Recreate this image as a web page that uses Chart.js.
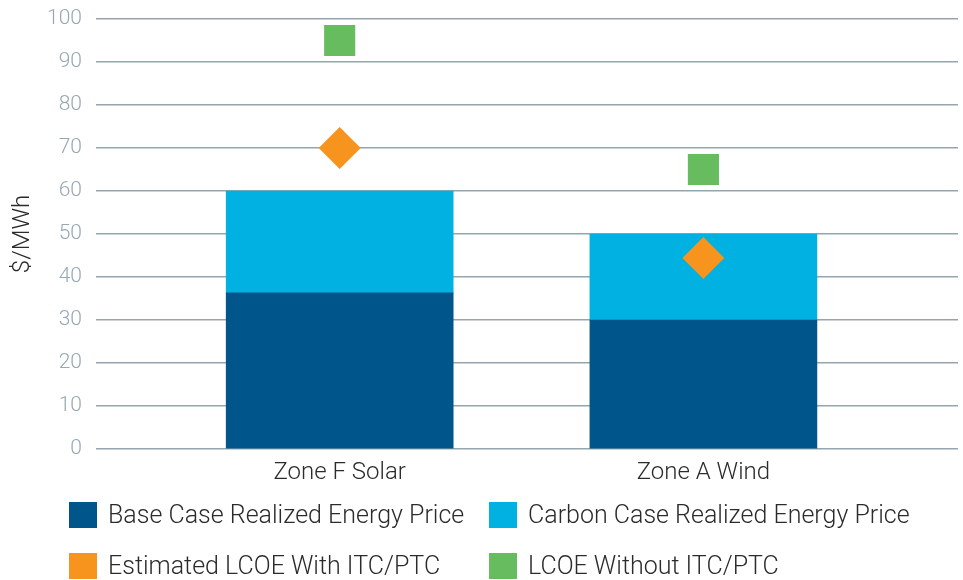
<!DOCTYPE html>
<html>
<head>
<meta charset="utf-8">
<script src="https://cdn.jsdelivr.net/npm/chart.js@4"></script>
<style>
    body { margin: 0; background: #fff; font-family: Roboto, sans-serif; }
    #wrap { position: relative; width: 963px; height: 580px; }
    .legend-item { position: absolute; display: flex; align-items: center; font-size: 25px; font-weight: 300; color: #2b2b2b; white-space: nowrap; line-height: 26px; }
    .legend-item span.box { display: inline-block; width: 28px; height: 26px; margin-right: 11px; }
</style>
</head>
<body>
<div id="wrap">
    <canvas id="chart" width="963" height="580"></canvas>
    <div id="legend"></div>
</div>
<script>
// chart data
const categories = ['Zone F Solar', 'Zone A Wind'];
const baseCase = [36.3, 30];          // Base Case Realized Energy Price
const carbonAdder = [23.7, 20];       // Carbon case minus base case (stack on top)
const lcoeWith = [70, 44.4];          // Estimated LCOE With ITC/PTC
const lcoeWithout = [95, 65];         // LCOE Without ITC/PTC
const yTicks = [0, 10, 20, 30, 40, 50, 60, 70, 80, 90, 100];

const colors = {
    base: '#00568a',
    carbon: '#00b1e1',
    with: '#f7941e',
    without: '#66bc5f'
};

const toPoints = arr => arr.map((v, i) => ({ x: i, y: v }));

const legendItems = [
    { label: 'Base Case Realized Energy Price', color: colors.base, left: 69, top: 502 },
    { label: 'Carbon Case Realized Energy Price', color: colors.carbon, left: 489, top: 502 },
    { label: 'Estimated LCOE With ITC/PTC', color: colors.with, left: 69, top: 553 },
    { label: 'LCOE Without ITC/PTC', color: colors.without, left: 489, top: 553 }
];

// html legend, two columns
const legendEl = document.getElementById('legend');
legendItems.forEach(item => {
    const div = document.createElement('div');
    div.className = 'legend-item';
    div.style.left = item.left + 'px';
    div.style.top = item.top + 'px';
    div.innerHTML = `<span class="box" style="background:${item.color}"></span>${item.label}`;
    legendEl.appendChild(div);
});

const tickColor = '#97a8b2';
const gridColor = '#95a5ae';

new Chart(document.getElementById('chart'), {
    data: {
        datasets: [
            {
                type: 'bar',
                label: 'Base Case Realized Energy Price',
                data: toPoints(baseCase),
                backgroundColor: colors.base,
                stack: 'prices',
                barThickness: 227,
                order: 3
            },
            {
                type: 'bar',
                label: 'Carbon Case Realized Energy Price',
                data: toPoints(carbonAdder),
                backgroundColor: colors.carbon,
                stack: 'prices',
                barThickness: 227,
                order: 3
            },
            {
                type: 'scatter',
                label: 'Estimated LCOE With ITC/PTC',
                data: toPoints(lcoeWith),
                backgroundColor: colors.with,
                pointStyle: 'rectRot',
                pointRadius: 21,
                pointBorderWidth: 0,
                stack: 'with',
                order: 1
            },
            {
                type: 'scatter',
                label: 'LCOE Without ITC/PTC',
                data: toPoints(lcoeWithout),
                backgroundColor: colors.without,
                pointStyle: 'rect',
                pointRadius: 22,
                pointBorderWidth: 0,
                stack: 'without',
                order: 1
            }
        ]
    },
    options: {
        responsive: false,
        animation: false,
        layout: { autoPadding: false, padding: { left: 0, right: 5, top: 19, bottom: 0 } },
        plugins: {
            legend: { display: false },
            tooltip: { enabled: false }
        },
        scales: {
            x: {
                type: 'linear',
                stacked: true,
                offset: false,
                min: -0.67,
                max: 1.7,
                grid: { display: false },
                border: { display: false },
                afterBuildTicks: scale => {
                    scale.ticks = categories.map((_, i) => ({ value: i }));
                },
                afterFit: scale => {
                    scale.height = 131;
                    scale.paddingLeft = 0;
                    scale.paddingRight = 0;
                },
                ticks: {
                    padding: 2,
                    color: '#2b2b2b',
                    font: { family: 'Roboto', size: 24, weight: 300 },
                    callback: value => categories[value]
                }
            },
            y: {
                stacked: true,
                min: 0,
                max: 100,
                afterBuildTicks: scale => {
                    scale.ticks = yTicks.map(v => ({ value: v }));
                },
                afterFit: scale => {
                    scale.width = 96;
                    scale.paddingTop = 0;
                    scale.paddingBottom = 0;
                },
                grid: { color: gridColor, lineWidth: 1.5, drawTicks: false },
                border: { display: false },
                ticks: {
                    padding: 14,
                    color: tickColor,
                    font: { family: 'Roboto', size: 21, weight: 300 }
                },
                title: {
                    display: true,
                    text: '$/MWh',
                    color: '#2b2b2b',
                    font: { family: 'Roboto', size: 24, weight: 300 },
                    padding: { top: 9, bottom: 0 }
                }
            }
        }
    }
});
</script>
</body>
</html>
